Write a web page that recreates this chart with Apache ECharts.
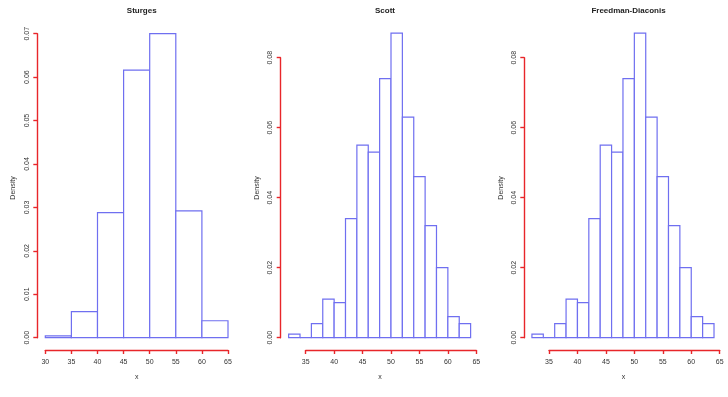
<!DOCTYPE html>
<html>
<head>
<meta charset="utf-8">
<script src="https://cdn.jsdelivr.net/npm/echarts@6/dist/echarts.min.js"></script>
<style>html,body{margin:0;padding:0;background:#fff;}#c{width:728px;height:397px;}</style>
</head>
<body>
<div id="c"></div>
<script>
var titles = ['Sturges', 'Scott', 'Freedman-Diaconis'];
var sturgesBreaks = [30, 35, 40, 45, 50, 55, 60, 65];
var sturgesDensity = [0.0004, 0.006, 0.0288, 0.0616, 0.070, 0.0292, 0.0039];
var scottBreaks = [32, 34, 36, 38, 40, 42, 44, 46, 48, 50, 52, 54, 56, 58, 60, 62, 64];
var scottDensity = [0.001, 0, 0.004, 0.011, 0.010, 0.034, 0.055, 0.053, 0.074, 0.087, 0.063, 0.046, 0.032, 0.020, 0.006, 0.004];
var fdBreaks = [32, 34, 36, 38, 40, 42, 44, 46, 48, 50, 52, 54, 56, 58, 60, 62, 64];
var fdDensity = [0.001, 0, 0.004, 0.011, 0.010, 0.034, 0.055, 0.053, 0.074, 0.087, 0.063, 0.046, 0.032, 0.020, 0.006, 0.004];
var xTicks1 = {min: 30, max: 65, interval: 5};
var xTicks2 = {min: 35, max: 65, interval: 5};
var yTicks1 = {min: 0, max: 0.07, interval: 0.01};
var yTicks2 = {min: 0, max: 0.08, interval: 0.02};

var FONT = '"Liberation Sans", Arial, sans-serif';
var RED = '#e8262a';
var BLUE = '#6f6ff0';

function toBins(breaks, dens) {
  var out = [];
  for (var i = 0; i < dens.length; i++) out.push([breaks[i], breaks[i + 1], dens[i]]);
  return out;
}
var panels = [
  {bins: toBins(sturgesBreaks, sturgesDensity), xt: xTicks1, yt: yTicks1,
   grid: {left: 45.3, top: 33.7, width: 182.7, height: 304}, yOff: 8, cx: 136.7},
  {bins: toBins(scottBreaks, scottDensity), xt: xTicks2, yt: yTicks2,
   grid: {left: 305.7, top: 57.7, width: 170.6, height: 280}, yOff: 25, cx: 380},
  {bins: toBins(fdBreaks, fdDensity), xt: xTicks2, yt: yTicks2,
   grid: {left: 549, top: 57.7, width: 170.7, height: 280}, yOff: 24.7, cx: 623.5}
];

var option = {
  backgroundColor: '#fff',
  animation: false,
  title: [], grid: [], xAxis: [], yAxis: [], series: [], graphic: []
};
var densityX = [12.7, 257, 501];
panels.forEach(function (p, i) {
  option.title.push({text: titles[i], left: p.cx, top: 2, textAlign: 'center',
    textStyle: {fontFamily: FONT, fontSize: 8, fontWeight: 'bold', color: '#222'}});
  option.grid.push({left: p.grid.left, top: p.grid.top, width: p.grid.width, height: p.grid.height, containLabel: false});
  option.xAxis.push({type: 'value', gridIndex: i, min: p.xt.min, max: p.xt.max, interval: p.xt.interval,
    offset: 12.3, position: 'bottom',
    axisLine: {show: true, onZero: false, lineStyle: {color: RED, width: 1.4}},
    axisTick: {show: true, length: 4, lineStyle: {color: RED, width: 1.4}},
    axisLabel: {fontFamily: FONT, fontSize: 7, color: '#333', margin: 9},
    splitLine: {show: false}});
  option.yAxis.push({type: 'value', gridIndex: i, min: p.yt.min, max: p.yt.max, interval: p.yt.interval,
    offset: p.yOff, position: 'left',
    axisLine: {show: true, onZero: false, lineStyle: {color: RED, width: 1.4}},
    axisTick: {show: true, length: 4, lineStyle: {color: RED, width: 1.4}},
    axisLabel: {fontFamily: FONT, fontSize: 7, color: '#333', margin: 7, rotate: 90,
      formatter: function (v) { return v.toFixed(2); }},
    splitLine: {show: false}});
  option.series.push({type: 'custom', xAxisIndex: i, yAxisIndex: i, clip: false,
    data: p.bins,
    renderItem: function (params, api) {
      var a = api.coord([api.value(0), api.value(2)]);
      var b = api.coord([api.value(1), 0]);
      return {type: 'rect', shape: {x: a[0], y: a[1], width: b[0] - a[0], height: b[1] - a[1]},
        style: {fill: '#fff', stroke: BLUE, lineWidth: 1.2}};
    }});
  option.graphic.push({type: 'text', rotation: Math.PI / 2,
    style: {text: 'Density', font: '7px ' + FONT, fill: '#333', textAlign: 'center', textVerticalAlign: 'middle'},
    x: densityX[i], y: 188});
  option.graphic.push({type: 'text', x: p.cx, y: 377,
    style: {text: 'x', font: '7px ' + FONT, fill: '#333', textAlign: 'center', textVerticalAlign: 'middle'}});
});

var chart = echarts.init(document.getElementById('c'), null, {renderer: 'canvas'});
chart.setOption(option);
</script>
</body>
</html>
